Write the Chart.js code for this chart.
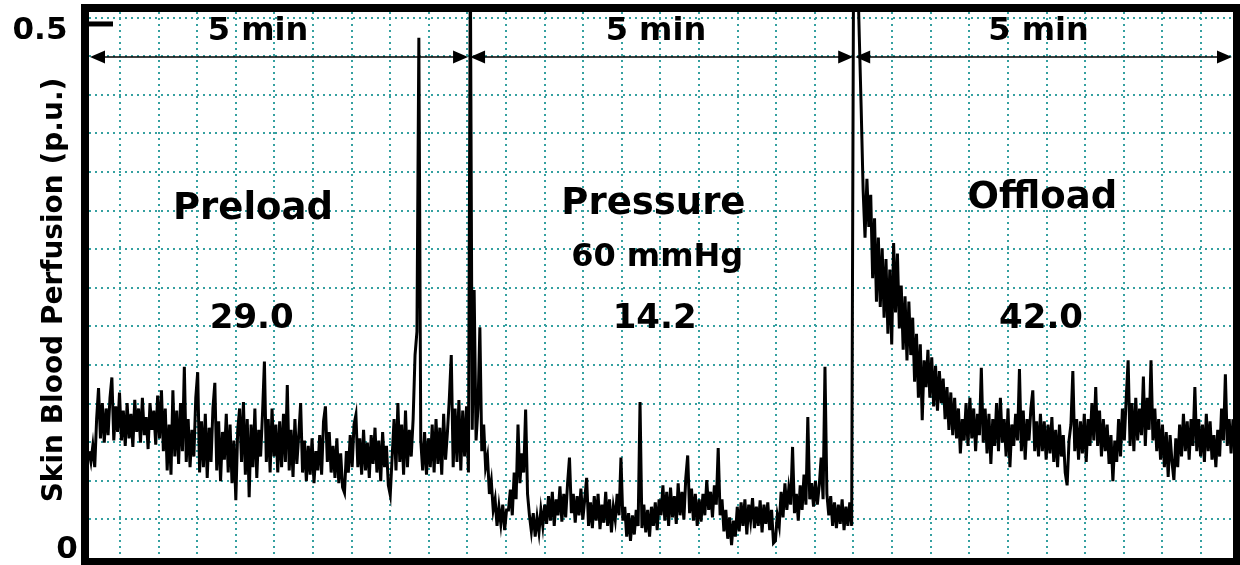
<!DOCTYPE html>
<html>
<head>
<meta charset="utf-8">
<title>Skin Blood Perfusion</title>
<script src="https://cdn.jsdelivr.net/npm/chart.js@4.4.1/dist/chart.umd.min.js"></script>
<style>
  html, body { margin: 0; padding: 0; background: #fff; }
  #wrap { width: 1240px; height: 565px; }
</style>
</head>
<body>
<div id="wrap"><canvas id="perfChart"></canvas></div>
<script>
// trace sampled every 1.5 s, each phase lasts 5 min
const sampleStep = 1.5;
const phaseStart = [0, 300, 600];

const preload = [
  0.100,0.090,0.105,0.085,0.130,0.159,0.112,0.145,0.108,0.140,0.115,0.150,0.169,0.110,0.142,0.118,0.155,0.110,0.138,0.105,
  0.145,0.112,0.135,0.104,0.148,0.118,0.140,0.108,0.150,0.115,0.132,0.102,0.145,0.120,0.138,0.106,0.152,0.112,0.157,0.100,
  0.140,0.082,0.125,0.078,0.157,0.095,0.138,0.088,0.145,0.100,0.179,0.090,0.130,0.085,0.120,0.095,0.150,0.174,0.080,0.128,
  0.085,0.135,0.075,0.122,0.090,0.140,0.164,0.082,0.128,0.072,0.118,0.092,0.135,0.080,0.125,0.070,0.110,0.054,0.120,0.140,
  0.090,0.146,0.078,0.130,0.057,0.125,0.085,0.140,0.075,0.120,0.095,0.135,0.184,0.090,0.130,0.080,0.140,0.095,0.125,0.080,
  0.128,0.085,0.135,0.090,0.162,0.082,0.120,0.076,0.130,0.088,0.115,0.145,0.080,0.110,0.072,0.105,0.078,0.112,0.070,0.100,
  0.082,0.115,0.078,0.128,0.142,0.090,0.118,0.080,0.105,0.075,0.112,0.070,0.098,0.066,0.061,0.100,0.080,0.115,0.085,0.125,
  0.134,0.085,0.112,0.078,0.120,0.082,0.108,0.075,0.115,0.088,0.122,0.080,0.110,0.072,0.118,0.085,0.105,0.068,0.059,0.095,
  0.130,0.082,0.145,0.090,0.125,0.078,0.138,0.085,0.120,0.095,0.130,0.190,0.212,0.487,0.110,0.082,0.118,0.078,0.112,0.085,
  0.125,0.080,0.130,0.088,0.122,0.078,0.135,0.092,0.118,0.150,0.190,0.085,0.140,0.090,0.148,0.082,0.138,0.095,0.142,0.080
];

const pressure = [
  0.560,0.120,0.251,0.110,0.140,0.216,0.100,0.125,0.085,0.095,0.060,0.072,0.045,0.055,0.030,0.048,0.032,0.050,0.026,0.045,
  0.045,0.064,0.040,0.080,0.055,0.125,0.070,0.098,0.080,0.139,0.060,0.040,0.025,0.042,0.020,0.038,0.024,0.045,0.030,0.050,
  0.032,0.058,0.035,0.062,0.030,0.055,0.040,0.067,0.034,0.060,0.038,0.070,0.094,0.042,0.060,0.033,0.058,0.040,0.065,0.036,
  0.055,0.075,0.030,0.052,0.028,0.058,0.035,0.060,0.027,0.050,0.033,0.062,0.030,0.055,0.024,0.048,0.036,0.060,0.040,0.094,
  0.035,0.048,0.020,0.042,0.016,0.040,0.022,0.045,0.030,0.146,0.028,0.050,0.024,0.045,0.020,0.048,0.030,0.052,0.026,0.055,
  0.040,0.068,0.035,0.062,0.030,0.066,0.038,0.058,0.032,0.070,0.040,0.062,0.036,0.075,0.096,0.042,0.065,0.035,0.060,0.030,
  0.055,0.034,0.060,0.040,0.073,0.045,0.062,0.038,0.068,0.050,0.103,0.040,0.055,0.025,0.045,0.018,0.038,0.012,0.035,0.020,
  0.048,0.025,0.052,0.030,0.055,0.022,0.050,0.035,0.056,0.028,0.048,0.030,0.054,0.024,0.050,0.032,0.052,0.026,0.045,0.014,
  0.016,0.040,0.030,0.062,0.038,0.070,0.045,0.065,0.050,0.104,0.042,0.060,0.035,0.068,0.045,0.078,0.050,0.132,0.055,0.070,
  0.048,0.072,0.050,0.068,0.094,0.055,0.179,0.060,0.040,0.058,0.030,0.052,0.028,0.050,0.032,0.055,0.026,0.048,0.030,0.052
];

const offload = [
  0.030,0.560,0.560,0.560,0.488,0.420,0.345,0.300,0.355,0.310,0.340,0.262,0.318,0.240,0.300,0.235,0.290,0.225,0.280,0.210,
  0.270,0.200,0.295,0.230,0.285,0.215,0.255,0.195,0.245,0.185,0.240,0.190,0.225,0.165,0.210,0.150,0.200,0.129,0.185,0.160,
  0.195,0.150,0.188,0.142,0.180,0.138,0.175,0.145,0.168,0.130,0.160,0.120,0.155,0.115,0.150,0.112,0.140,0.098,0.130,0.110,
  0.145,0.105,0.150,0.112,0.140,0.100,0.135,0.115,0.178,0.108,0.140,0.098,0.135,0.088,0.130,0.105,0.145,0.100,0.150,0.108,
  0.130,0.095,0.140,0.085,0.125,0.105,0.135,0.110,0.177,0.100,0.138,0.092,0.130,0.110,0.140,0.157,0.100,0.128,0.095,0.135,
  0.100,0.128,0.092,0.125,0.098,0.132,0.090,0.120,0.085,0.125,0.095,0.115,0.080,0.068,0.110,0.125,0.175,0.100,0.130,0.092,
  0.128,0.098,0.135,0.090,0.130,0.105,0.145,0.110,0.160,0.105,0.138,0.095,0.130,0.100,0.125,0.088,0.115,0.072,0.110,0.090,
  0.130,0.095,0.140,0.110,0.150,0.185,0.105,0.145,0.100,0.150,0.110,0.140,0.115,0.170,0.105,0.150,0.120,0.185,0.110,0.140,
  0.100,0.130,0.092,0.125,0.085,0.118,0.076,0.115,0.090,0.073,0.112,0.085,0.125,0.095,0.135,0.100,0.128,0.092,0.130,0.105,
  0.160,0.100,0.130,0.095,0.125,0.090,0.135,0.100,0.128,0.092,0.115,0.085,0.120,0.095,0.140,0.110,0.172,0.105,0.130,0.098,
  0.130
];

const phaseNames = ['Preload', 'Pressure', 'Offload'];
const phaseMeans = ['29.0', '14.2', '42.0'];
const pressureNote = '60 mmHg';
const spanText = '5 min';
const yTitle = 'Skin Blood Perfusion (p.u.)';
const yTickLabels = ['0', '0.5'];

// where the annotations sit, in chart units (seconds, p.u.)
const arrowSpans = [[0, 299], [299, 602], [602, 900]];
const arrowLevel = 0.469;
const spanTextX = [133, 446, 747];
const spanTextY = 0.4925;
const phaseNameX = [129, 444, 750];
const phaseNameY = [0.326, 0.331, 0.337];
const noteX = 447, noteY = 0.281;
const meanX = [128, 445, 749];
const meanY = 0.224;

const fontFam = '"DejaVu Sans", Verdana, sans-serif';
const gridColor = '#35a0a0';

const toPoints = (values, start) => values.map((v, i) => ({ x: start + i * sampleStep, y: v }));
const trace = [].concat(
  toPoints(preload, phaseStart[0]),
  toPoints(pressure, phaseStart[1]),
  toPoints(offload, phaseStart[2])
);

const flecha = (ctx, tipX, yy, dir) => {
  ctx.beginPath();
  ctx.moveTo(tipX, yy);
  ctx.lineTo(tipX + dir * 15, yy - 6.5);
  ctx.lineTo(tipX + dir * 15, yy + 6.5);
  ctx.closePath();
  ctx.fill();
};

const texto = (ctx, str, px, py, size) => {
  ctx.font = `bold ${size}px ${fontFam}`;
  ctx.fillText(str, px, py);
};

const anotaciones = {
  id: 'anotaciones',
  afterDatasetsDraw(chart) {
    const { ctx, chartArea: a } = chart;
    const x = chart.scales.x, y = chart.scales.y;
    ctx.save();
    ctx.fillStyle = '#000';
    ctx.strokeStyle = '#000';
    ctx.textAlign = 'center';
    ctx.textBaseline = 'middle';

    // 5 min arrows
    const ay = y.getPixelForValue(arrowLevel);
    ctx.lineWidth = 1.6;
    arrowSpans.forEach(([t0, t1]) => {
      const x0 = x.getPixelForValue(t0), x1 = x.getPixelForValue(t1);
      ctx.beginPath();
      ctx.moveTo(x0 + 4, ay);
      ctx.lineTo(x1 - 4, ay);
      ctx.stroke();
      flecha(ctx, x0 + 1, ay, 1);
      flecha(ctx, x1 - 1, ay, -1);
    });

    spanTextX.forEach(t => texto(ctx, spanText, x.getPixelForValue(t), y.getPixelForValue(spanTextY), 32));
    phaseNames.forEach((n, i) => texto(ctx, n, x.getPixelForValue(phaseNameX[i]), y.getPixelForValue(phaseNameY[i]), 37));
    texto(ctx, pressureNote, x.getPixelForValue(noteX), y.getPixelForValue(noteY), 32);
    phaseMeans.forEach((m, i) => texto(ctx, m, x.getPixelForValue(meanX[i]), y.getPixelForValue(meanY), 34));

    // 0.5 tick mark inside the frame
    const y05 = y.getPixelForValue(0.5);
    ctx.fillRect(a.left, y05 - 2.5, 24, 5);

    // thick frame
    ctx.lineWidth = 8;
    ctx.strokeRect(a.left - 4, a.top - 4, a.right - a.left + 8, a.bottom - a.top + 8);

    // y tick labels and title
    texto(ctx, yTickLabels[1], a.left - 49, y05 + 7, 31);
    texto(ctx, yTickLabels[0], a.left - 22, y.getPixelForValue(0) - 8, 31);
    ctx.translate(a.left - 34, (a.top + a.bottom) / 2 + 5);
    ctx.rotate(-Math.PI / 2);
    texto(ctx, yTitle, 0, 0, 28);
    ctx.restore();
  }
};

new Chart(document.getElementById('perfChart'), {
  type: 'line',
  data: {
    datasets: [{
      label: 'Perfusion',
      data: trace,
      borderColor: '#000',
      borderWidth: 3,
      pointRadius: 0,
      tension: 0,
      fill: false
    }]
  },
  options: {
    responsive: true,
    maintainAspectRatio: false,
    animation: false,
    layout: { padding: { left: 89, top: 12, right: 7, bottom: 7 } },
    plugins: { legend: { display: false }, tooltip: { enabled: false } },
    scales: {
      x: {
        type: 'linear',
        min: 0,
        max: 900,
        afterFit: (s) => { s.height = 0; },
        afterBuildTicks: (s) => {
          const t = [];
          for (let k = 0; k <= 28; k++) t.push({ value: 24.4 + k * 30.37 });
          s.ticks = t;
        },
        ticks: { display: false },
        grid: { color: gridColor, lineWidth: 2, drawTicks: false },
        border: { display: false, dash: [2, 4] }
      },
      y: {
        min: 0,
        max: 0.5112,
        afterFit: (s) => { s.width = 0; },
        afterBuildTicks: (s) => {
          const t = [];
          for (let k = 1; k <= 14; k++) t.push({ value: k * 0.03614 });
          s.ticks = t;
        },
        ticks: { display: false },
        grid: { color: gridColor, lineWidth: 2, drawTicks: false },
        border: { display: false, dash: [2, 4] }
      }
    }
  },
  plugins: [anotaciones]
});
</script>
</body>
</html>
